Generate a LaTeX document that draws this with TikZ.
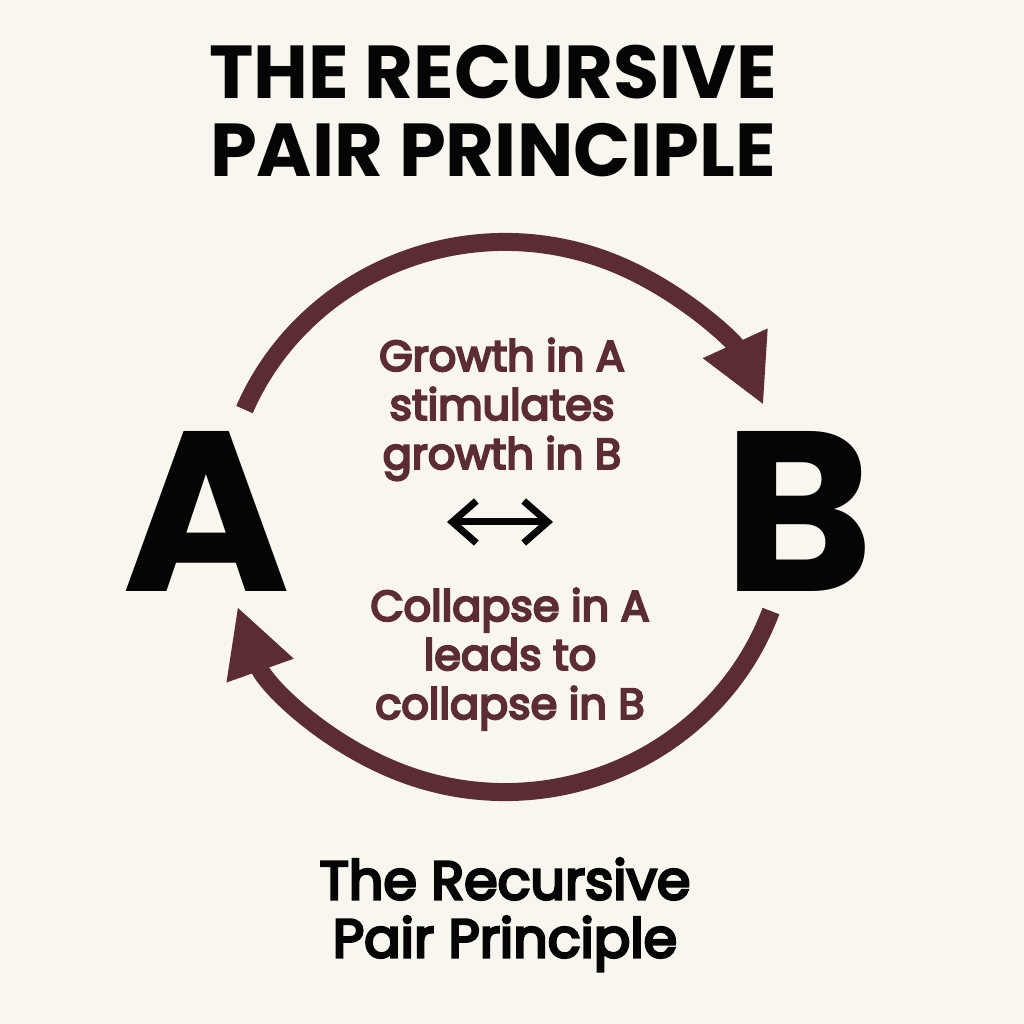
\documentclass[tikz,border=0pt]{standalone}
\usepackage{fontspec}
\setmainfont{Poppins}
\newfontfamily\midfont[FakeBold=5]{Poppins}
\newfontfamily\semfont[FakeBold=5]{Poppins}
\usetikzlibrary{arrows.meta, positioning}
\definecolor{paper}{HTML}{F8F6EE}
\definecolor{wine}{HTML}{5B2C33}
\definecolor{ink}{HTML}{050505}
\tikzset{
  ttl/.style={font=\fontsize{75}{78}\selectfont\bfseries, text=ink, align=center, inner sep=0pt},
  big/.style={font=\fontsize{228}{228}\selectfont\bfseries, text=ink, inner sep=0pt},
  lbl/.style={font=\midfont\fontsize{43}{49}\selectfont, text=wine, align=center, inner sep=0pt},
  sub/.style={font=\semfont\fontsize{54}{58}\selectfont, text=ink, align=center, inner sep=0pt},
  cyc/.style={-{Triangle[length=68pt, width=66pt]}, line width=18pt, draw=wine},
  dbl/.style={{Straight Barb[length=24pt, width=42pt]}-{Straight Barb[length=24pt, width=42pt]}, line width=7pt, draw=ink},
}
\begin{document}
\begin{tikzpicture}[x=1pt, y=1pt]
  \fill[paper] (0,0) rectangle (1024,1024);
  \node[ttl, anchor=north] (title) at (493,979) {THE RECURSIVE\\PAIR PRINCIPLE};
  \node[big, anchor=base] (a) at (207,432) {A};
  \node[big, anchor=base] (b) at (799,432) {B};
  \node[lbl, anchor=north] (grow) at (502,686) {Growth in A\\stimulates\\growth in B};
  \node[lbl, anchor=north] (fall) at (510,436) {Collapse in A\\leads to\\collapse in B};
  \node[sub, anchor=north] (caption) at (505,166) {The Recursive\\Pair Principle};
  % cycle A -> B -> A
  \coordinate (hub) at (505,507);
  \coordinate (up0) at ([shift={(157:283pt and 275pt)}]hub);
  \coordinate (dn0) at ([shift={(-20:283pt and 275pt)}]hub);
  \draw[cyc] (up0) arc[start angle=157, end angle=24, x radius=283pt, y radius=275pt];
  \draw[cyc] (dn0) arc[start angle=-20, end angle=-161, x radius=283pt, y radius=275pt];
  % two-way link
  \coordinate (lk0) at (447,502);
  \coordinate (lk1) at (553,502);
  \draw[dbl] (lk0) -- (lk1);
\end{tikzpicture}
\end{document}
